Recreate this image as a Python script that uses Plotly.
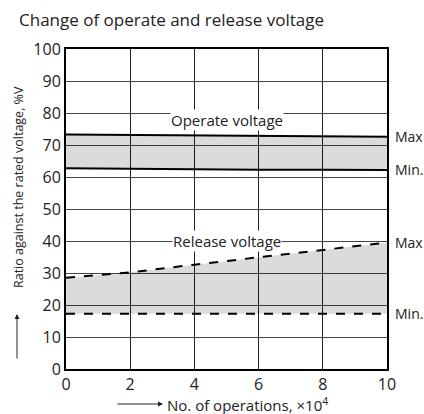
import plotly.graph_objects as go

# ---- data ----
operations = [0, 2, 4, 6, 8, 10]
operate_max = [73.3, 73.2, 73.1, 73.0, 72.9, 72.6]
operate_min = [62.7, 62.5, 62.4, 62.3, 62.3, 62.2]
release_max = [28.5, 30.2, 32.6, 34.9, 37.1, 39.5]
release_min = [17.3, 17.3, 17.3, 17.3, 17.3, 17.3]
x_ticks = [0, 2, 4, 6, 8, 10]
y_ticks = [0, 10, 20, 30, 40, 50, 60, 70, 80, 90, 100]

FONT = "Open Sans"
W, H = 424, 414
L, R, T, B = 66, 37, 49, 45
PW, PH = W - L - R, H - T - B

def px(x):
    return (x - L) / PW

def py(y):
    return (H - B - y) / PH

fig = go.Figure()
fill = "rgba(0,0,0,0.14)"
fig.add_trace(go.Scatter(x=operations, y=operate_min, mode="lines",
                         line=dict(color="black", width=2)))
fig.add_trace(go.Scatter(x=operations, y=operate_max, mode="lines", fill="tonexty",
                         fillcolor=fill, line=dict(color="black", width=2)))
fig.add_trace(go.Scatter(x=operations, y=release_min, mode="lines",
                         line=dict(color="black", width=2, dash="dash")))
fig.add_trace(go.Scatter(x=operations, y=release_max, mode="lines", fill="tonexty",
                         fillcolor=fill, line=dict(color="black", width=2, dash="dash")))

ann = []
ann.append(dict(x=5, y=77.8, xref="x", yref="y", text="Operate voltage", showarrow=False,
                bgcolor="white", font=dict(size=15, color="#222"), borderpad=0))
ann.append(dict(x=5, y=40, xref="x", yref="y", text="Release voltage", showarrow=False,
                bgcolor="white", font=dict(size=15, color="#222"), borderpad=0))
for yv, t in [(operate_max[-1], "Max"), (operate_min[-1], "Min."),
              (release_max[-1], "Max"), (release_min[-1], "Min.")]:
    ann.append(dict(x=1.0, y=yv, xref="paper", yref="y", text=t, showarrow=False,
                    xanchor="left", xshift=6, font=dict(size=14, color="#222")))
# title
ann.append(dict(x=px(17), y=py(19), xref="paper", yref="paper",
                text="Change of operate and release voltage", showarrow=False,
                xanchor="left", yanchor="middle", font=dict(size=17, color="#222")))
# x axis title + arrow
ann.append(dict(x=px(165), y=py(404), xref="paper", yref="paper",
                text="No. of operations, ×10<sup>4</sup>", showarrow=False,
                xanchor="left", yanchor="middle", font=dict(size=15, color="#222")))
ann.append(dict(x=px(163), y=py(404), xref="paper", yref="paper",
                ax=-47, ay=0, text="", showarrow=True, arrowhead=2, arrowsize=1,
                arrowwidth=1, arrowcolor="#222"))
# y axis title + arrow
ann.append(dict(x=px(18), y=py(187), xref="paper", yref="paper",
                text="Ratio against the rated voltage, %V", showarrow=False, textangle=-90,
                xanchor="center", yanchor="middle", font=dict(size=12.5, color="#222")))
ann.append(dict(x=px(17), y=py(314), xref="paper", yref="paper",
                ax=0, ay=46, text="", showarrow=True, arrowhead=2, arrowsize=1,
                arrowwidth=1, arrowcolor="#222"))

fig.update_layout(
    width=W, height=H, margin=dict(l=L, r=R, t=T, b=B),
    paper_bgcolor="white", plot_bgcolor="white", showlegend=False,
    font=dict(family=FONT, size=13, color="#222"),
    annotations=ann,
    xaxis=dict(range=[0, 10], tickvals=x_ticks, showgrid=True, gridcolor="#222", gridwidth=1,
               showline=True, linecolor="black", linewidth=2, mirror=True, zeroline=False,
               ticks="", tickfont=dict(size=16)),
    yaxis=dict(range=[0, 100], tickvals=y_ticks, showgrid=True, gridcolor="#444", gridwidth=1,
               showline=True, linecolor="black", linewidth=2, mirror=True, zeroline=False,
               ticks="", tickfont=dict(size=16)),
)
fig.write_html("out.html", config={"displayModeBar": False},
               post_script="document.body.style.margin='0';")
